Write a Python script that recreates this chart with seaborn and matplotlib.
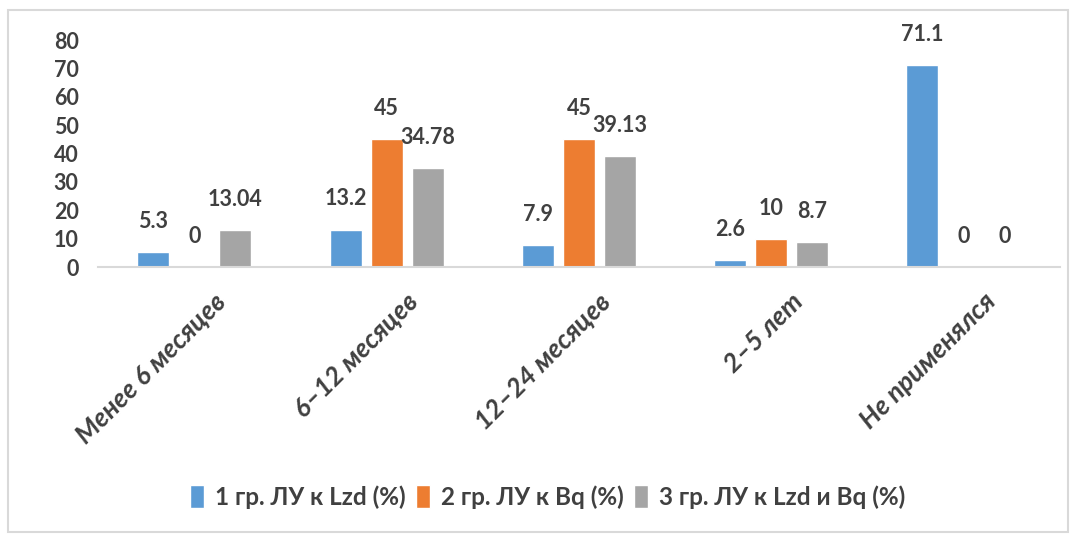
import matplotlib
matplotlib.use("Agg")
import matplotlib.pyplot as plt
import matplotlib.transforms as mtransforms
from matplotlib.patches import Rectangle
import seaborn as sns
import pandas as pd

categories = ["Менее 6 месяцев", "6–12 месяцев", "12–24 месяцев", "2–5 лет", "Не применялся"]
series_names = ["1 гр. ЛУ к Lzd (%)", "2 гр. ЛУ к Bq (%)", "3 гр. ЛУ к Lzd и Bq (%)"]
group1 = [5.3, 13.2, 7.9, 2.6, 71.1]
group2 = [0, 45, 45, 10, 0]
group3 = [13.04, 34.78, 39.13, 8.7, 0]
label_text = [
    ["5.3", "13.2", "7.9", "2.6", "71.1"],
    ["0", "45", "45", "10", "0"],
    ["13.04", "34.78", "39.13", "8.7", "0"],
]
colors = ["#5B9BD5", "#ED7D31", "#A5A5A5"]
y_ticks = [0, 10, 20, 30, 40, 50, 60, 70, 80]

rows = []
for name, vals in zip(series_names, [group1, group2, group3]):
    for cat, v in zip(categories, vals):
        rows.append({"cat": cat, "series": name, "value": v})
df = pd.DataFrame(rows)

sns.set_theme(style="white")
plt.rcParams["font.family"] = ["Lato", "DejaVu Sans"]
text_color = "#404040"

fig = plt.figure(figsize=(10.78, 5.34), dpi=100)
ax = fig.add_axes([0.091, 0.5, 0.892, 0.425])

sns.barplot(data=df, x="cat", y="value", hue="series", order=categories,
            hue_order=series_names, palette=colors, width=0.64, gap=0.22,
            saturation=1, ax=ax, legend=True)

ax.set_ylim(0, 80)
ax.set_yticks(y_ticks)
ax.set_yticklabels([str(t) for t in y_ticks], fontsize=15.5, fontweight="bold",
                   color=text_color)
ax.tick_params(axis="y", length=0, pad=14)
ax.tick_params(axis="x", length=0, pad=0)
ax.set_xlabel("")
ax.set_ylabel("")
for side in ["top", "right", "left"]:
    ax.spines[side].set_visible(False)
ax.spines["bottom"].set_color("#D9D9D9")
ax.spines["bottom"].set_linewidth(1.5)

# value labels above each bar
for cont, texts in zip(ax.containers, label_text):
    for bar, txt in zip(cont, texts):
        x = bar.get_x() + bar.get_width() / 2
        ax.annotate(txt, (x, bar.get_height()), xytext=(0, 22),
                    textcoords="offset points", ha="center", va="center",
                    fontsize=15.5, fontweight="bold", color=text_color,
                    annotation_clip=False)

# rotated bold italic category labels
shift = mtransforms.ScaledTranslation(14 / 72, -16 / 72, fig.dpi_scale_trans)
ax.set_xticks(range(len(categories)))
ax.set_xticklabels(categories, rotation=45, ha="right", va="top",
                   rotation_mode="anchor", fontsize=19, fontstyle="italic",
                   fontweight="bold", color=text_color)
for lbl in ax.get_xticklabels():
    lbl.set_transform(lbl.get_transform() + shift)

leg = ax.legend(loc="center", bbox_to_anchor=(0.508, 0.07),
                bbox_transform=fig.transFigure, ncol=3, frameon=False,
                prop={"size": 17.5, "weight": "bold"}, handlelength=0.55,
                handleheight=1.1, handletextpad=0.45, columnspacing=0.45)
for t in leg.get_texts():
    t.set_color(text_color)

# outer frame of the chart area
fig.patches.append(Rectangle((8 / 1078, 2 / 534), 1060 / 1078, 522 / 534,
                             transform=fig.transFigure, fill=False,
                             edgecolor="#D9D9D9", linewidth=1.5))

fig.savefig("out.png", dpi=100)
